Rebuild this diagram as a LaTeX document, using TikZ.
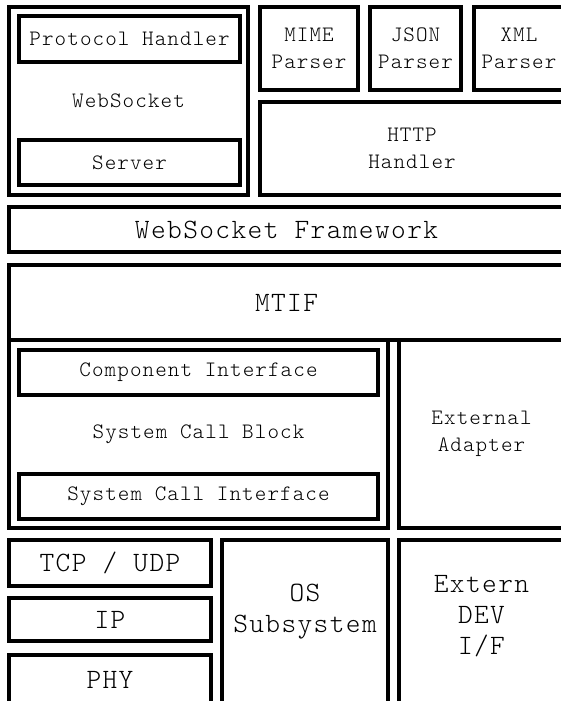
\documentclass[tikz,border=0pt]{standalone}
\usepackage{fontspec}
\newfontfamily\boxfont{lmmonolt10-regular.otf}[LetterSpace=5]
\usetikzlibrary{calc}

\begin{document}
\begin{tikzpicture}[
		x=1pt, y=-1pt,
		box/.style={draw, rectangle, line width=3.5pt, inner sep=0pt, align=center},
		small/.style={font=\boxfont\fontsize{22}{27}\selectfont},
		large/.style={font=\boxfont\fontsize{28}{31}\selectfont}]
		\clip (0,0) rectangle (561,701);

		\node[box, small, minimum width=239, minimum height=188] (ws)     at (128.5,101)  {WebSocket};
		\node[box, small, minimum width=221, minimum height=46]  (proto)  at (129.5,39)   {Protocol Handler};
		\node[box, small, minimum width=221, minimum height=45]  (server) at (129.5,162.5) {Server};

		\node[box, small, minimum width=98,  minimum height=83]  (mime) at (309,48.5)   {MIME\\Parser};
		\node[box, small, minimum width=91,  minimum height=83]  (json) at (415.5,48.5) {JSON\\Parser};
		\node[box, small, minimum width=90,  minimum height=83]  (xml)  at (519,48.5)   {XML\\Parser};
		\node[box, small, minimum width=304, minimum height=93]  (http) at (412,148.5)  {HTTP\\Handler};

		\node[box, large, minimum width=555, minimum height=45]  (frame) at (286.5,229.5) {WebSocket Framework};
		\node[box, large, minimum width=555, minimum height=75]  (mtif)  at (286.5,302.5) {MTIF};

		\node[box, small, minimum width=379, minimum height=188] (scb)    at (198.5,434)   {System Call Block};
		\node[box, small, minimum width=359, minimum height=45]  (compif) at (198.5,372.5) {Component Interface};
		\node[box, small, minimum width=359, minimum height=45]  (sysif)  at (198.5,496.5) {System Call Interface};
		\node[box, small, minimum width=165, minimum height=188] (extad)  at (481.5,434)   {External\\Adapter};

%		bottom row
		\node[box, large, minimum width=202, minimum height=46]  (tcp) at (110,563)   {TCP / UDP};
		\node[box, large, minimum width=202, minimum height=43]  (ip)  at (110,619.5) {IP};
		\node[box, large, minimum width=202, minimum height=50]  (phy) at (110,680)   {PHY};
		\node[box, minimum width=166, minimum height=170] (os)     at (305,625)   {};
		\node[box, minimum width=165, minimum height=170] (extdev) at (481.5,625) {};
		\node[large, align=center] (ostext)  at ($(os)+(0,-13)$)     {OS\\Subsystem};
		\node[large, align=center] (devtext) at ($(extdev)+(0,-9)$)  {Extern\\DEV\\I/F};
\end{tikzpicture}
\end{document}
